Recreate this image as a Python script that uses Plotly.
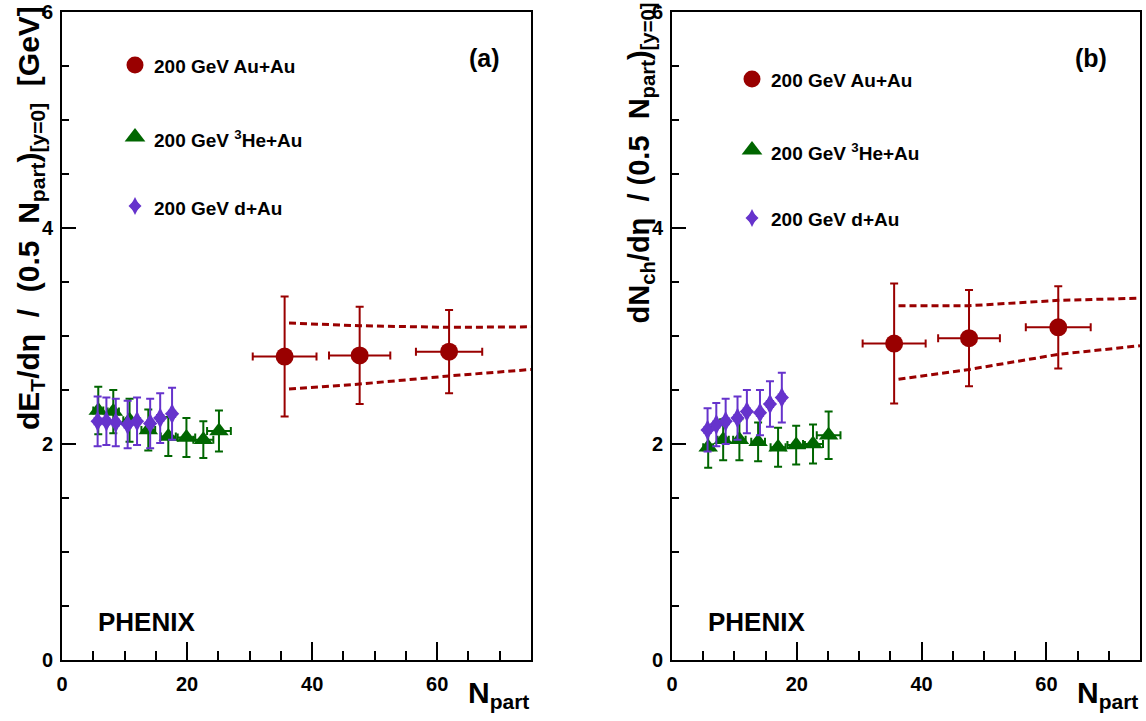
import plotly.graph_objects as go

# ---------------- data ----------------
npart_auau = [35.6, 47.6, 61.9]
npart_auau_err_a = [5.1, 4.9, 5.3]
npart_auau_err_b = [5.05, 4.95, 5.2]
et_auau = [2.81, 2.82, 2.855]
et_auau_err = [0.555, 0.45, 0.385]
nch_auau = [2.93, 2.98, 3.08]
nch_auau_err = [0.555, 0.445, 0.38]

npart_heau = [5.8, 8.2, 10.8, 13.8, 17.0, 19.9, 22.6, 25.1]
npart_heau_err = [0.8, 0.9, 1.0, 1.1, 1.2, 1.4, 1.6, 1.9]
et_heau = [2.31, 2.30, 2.22, 2.13, 2.07, 2.06, 2.04, 2.12]
et_heau_err = [0.22, 0.20, 0.20, 0.19, 0.18, 0.18, 0.17, 0.19]
nch_heau = [1.97, 2.04, 2.04, 2.02, 1.97, 1.99, 2.00, 2.08]
nch_heau_err = [0.19, 0.19, 0.19, 0.18, 0.18, 0.18, 0.18, 0.22]

npart_dau = [5.7, 7.1, 8.6, 10.5, 12.0, 14.1, 15.7, 17.6]
npart_dau_err = [0.5, 0.5, 0.5, 0.5, 0.5, 0.5, 0.5, 0.5]
et_dau = [2.21, 2.21, 2.20, 2.18, 2.21, 2.19, 2.24, 2.28]
et_dau_err = [0.23, 0.22, 0.22, 0.22, 0.22, 0.23, 0.23, 0.24]
nch_dau = [2.13, 2.18, 2.21, 2.24, 2.30, 2.29, 2.37, 2.43]
nch_dau_err = [0.20, 0.20, 0.21, 0.20, 0.20, 0.21, 0.21, 0.23]

band_npart = [36.3, 47.6, 61.9, 75.0]
et_band_hi = [3.12, 3.095, 3.08, 3.085]
et_band_lo = [2.51, 2.555, 2.63, 2.69]
nch_band_hi = [3.28, 3.28, 3.33, 3.35]
nch_band_lo = [2.60, 2.69, 2.83, 2.91]

x_ticks = [0, 20, 40, 60]
y_ticks = [0, 2, 4, 6]
labels = ["200 GeV Au+Au", "200 GeV <sup>3</sup>He+Au", "200 GeV d+Au"]

# ---------------- style ----------------
W, H = 1146, 721
FONT = "Liberation Sans, Arial, sans-serif"
RED = "#990000"
GREEN = "#006600"
PURPLE = "#6633CC"
COLORS = [RED, GREEN, PURPLE]
NB = "\u00a0"

# legend key positions (pixels) for each panel
leg_key_x = [135, 752]
leg_key_y = [[65, 137, 206], [79, 150, 218]]


def px(x):
    return x / W


def py(y):
    return 1 - y / H


fig = go.Figure()

panels = [
    dict(xa="x", ya="y", band_hi=et_band_hi, band_lo=et_band_lo,
         auau=et_auau, auau_err=et_auau_err, auau_xerr=npart_auau_err_a,
         he=et_heau, he_err=et_heau_err, d=et_dau, d_err=et_dau_err),
    dict(xa="x2", ya="y2", band_hi=nch_band_hi, band_lo=nch_band_lo,
         auau=nch_auau, auau_err=nch_auau_err, auau_xerr=npart_auau_err_b,
         he=nch_heau, he_err=nch_heau_err, d=nch_dau, d_err=nch_dau_err),
]

for p in panels:
    for band in (p["band_hi"], p["band_lo"]):
        fig.add_trace(go.Scatter(
            x=band_npart, y=band, mode="lines", xaxis=p["xa"], yaxis=p["ya"],
            line=dict(color=RED, width=3, dash="7px,4px"), showlegend=False,
            hoverinfo="skip"))
    fig.add_trace(go.Scatter(
        x=npart_auau, y=p["auau"], mode="markers", xaxis=p["xa"], yaxis=p["ya"],
        name=labels[0], showlegend=False,
        marker=dict(symbol="circle", size=18, color=RED),
        error_y=dict(type="data", array=p["auau_err"], color=RED, thickness=2, width=4),
        error_x=dict(type="data", array=p["auau_xerr"], color=RED, thickness=2, width=4)))
    fig.add_trace(go.Scatter(
        x=npart_heau, y=p["he"], mode="markers", xaxis=p["xa"], yaxis=p["ya"],
        name=labels[1], showlegend=False,
        marker=dict(symbol="triangle-up", size=17, color=GREEN),
        error_y=dict(type="data", array=p["he_err"], color=GREEN, thickness=2, width=4),
        error_x=dict(type="data", array=npart_heau_err, color=GREEN, thickness=2, width=4)))
    fig.add_trace(go.Scatter(
        x=npart_dau, y=p["d"], mode="markers", xaxis=p["xa"], yaxis=p["ya"],
        name=labels[2], showlegend=False,
        marker=dict(symbol="diamond-tall", size=15, color=PURPLE),
        error_y=dict(type="data", array=p["d_err"], color=PURPLE, thickness=2, width=4),
        error_x=dict(type="data", array=npart_dau_err, color=PURPLE, thickness=2, width=4)))
    fig.add_trace(go.Scatter(
        x=npart_dau, y=p["d"], mode="markers", xaxis=p["xa"], yaxis=p["ya"],
        showlegend=False, hoverinfo="skip",
        marker=dict(symbol="diamond", size=11, color=PURPLE)))

# legend keys drawn on an invisible full-figure pixel axis
leg_symbols = [("circle", 17), ("triangle-up", 18), ("diamond-tall", 13)]
for pi in range(2):
    for k, (sym, sz) in enumerate(leg_symbols):
        fig.add_trace(go.Scatter(
            x=[leg_key_x[pi]], y=[leg_key_y[pi][k]], mode="markers",
            xaxis="x3", yaxis="y3", showlegend=False, hoverinfo="skip",
            marker=dict(symbol=sym, size=sz, color=COLORS[k])))
    fig.add_trace(go.Scatter(
        x=[leg_key_x[pi]], y=[leg_key_y[pi][2]], mode="markers",
        xaxis="x3", yaxis="y3", showlegend=False, hoverinfo="skip",
        marker=dict(symbol="diamond", size=10, color=PURPLE)))


def xaxis(domain, anchor):
    return dict(domain=domain, anchor=anchor, range=[0, 75],
                tickvals=x_ticks, ticktext=["<b>%d</b>" % v for v in x_ticks],
                ticks="inside", ticklen=18, tickwidth=1.5, tickcolor="black",
                minor=dict(ticks="inside", ticklen=9, dtick=5, tickwidth=1.5, tickcolor="black"),
                showline=True, linecolor="black", linewidth=2, mirror=True,
                showgrid=False, zeroline=False, automargin=False, ticklabelstandoff=5,
                tickfont=dict(family=FONT, size=20, color="black"))


def yaxis(anchor):
    return dict(domain=[py(660), py(12)], anchor=anchor, range=[0, 6],
                tickvals=y_ticks, ticktext=["<b>%d</b>" % v for v in y_ticks],
                ticks="inside", ticklen=14, tickwidth=1.5, tickcolor="black",
                minor=dict(ticks="inside", ticklen=7, dtick=0.5, tickwidth=1.5, tickcolor="black"),
                showline=True, linecolor="black", linewidth=2, mirror=True,
                showgrid=False, zeroline=False, automargin=False, ticklabelstandoff=3,
                tickfont=dict(family=FONT, size=20, color="black"))


fig.update_layout(
    width=W, height=H, margin=dict(l=0, r=0, t=0, b=0, autoexpand=False),
    paper_bgcolor="white", plot_bgcolor="rgba(0,0,0,0)",
    font=dict(family=FONT, color="black"),
    xaxis=xaxis([px(62), px(531)], "y"),
    yaxis=yaxis("x"),
    xaxis2=xaxis([px(672), px(1140)], "y2"),
    yaxis2=yaxis("x2"),
    xaxis3=dict(domain=[0, 1], anchor="y3", range=[0, W], visible=False,
                automargin=False, fixedrange=True),
    yaxis3=dict(domain=[0, 1], anchor="x3", range=[H, 0], visible=False,
                automargin=False, fixedrange=True),
    showlegend=False,
)

title_a = ("<b>dE<sub>T</sub>/dη" + NB * 2 + "/" + NB * 2 + "(0.5" + NB * 2 +
           "N<sub>part</sub>)<sub>[y=0]</sub>" + NB * 2 + "[GeV]</b>")
title_b = ("<b>dN<sub>ch</sub>/dη" + NB * 2 + "/" + NB + "(0.5" + NB * 2 +
           "N<sub>part</sub>)<sub>[y=0]</sub></b>")

ann = []
ann.append(dict(text=title_a, x=px(30), y=py(4), xref="paper", yref="paper",
                xanchor="center", yanchor="top", textangle=-90, showarrow=False,
                font=dict(family=FONT, size=30)))
ann.append(dict(text=title_b, x=px(640), y=py(1), xref="paper", yref="paper",
                xanchor="center", yanchor="top", textangle=-90, showarrow=False,
                font=dict(family=FONT, size=29)))
for xr in (531, 1140):
    ann.append(dict(text="<b>N<sub>part</sub></b>", x=px(xr), y=py(674), xref="paper",
                    yref="paper", xanchor="right", yanchor="top", showarrow=False,
                    font=dict(family=FONT, size=30)))
for xc in (146, 756):
    ann.append(dict(text="<b>PHENIX</b>", x=px(xc), y=py(622), xref="paper", yref="paper",
                    xanchor="center", yanchor="middle", showarrow=False,
                    font=dict(family=FONT, size=26)))
for xc, lab in ((484, "(a)"), (1091, "(b)")):
    ann.append(dict(text="<b>%s</b>" % lab, x=px(xc), y=py(58), xref="paper", yref="paper",
                    xanchor="center", yanchor="middle", showarrow=False,
                    font=dict(family=FONT, size=25)))
for pi in range(2):
    for k in range(3):
        ann.append(dict(text="<b>%s</b>" % labels[k], x=px(leg_key_x[pi] + 17),
                        y=py(leg_key_y[pi][k] + 2), xref="paper", yref="paper",
                        xanchor="left", yanchor="middle", showarrow=False,
                        font=dict(family=FONT, size=19)))
fig.update_layout(annotations=ann)

fig.write_html("out.html", config={"displayModeBar": False},
               post_script="document.body.style.margin='0';")
